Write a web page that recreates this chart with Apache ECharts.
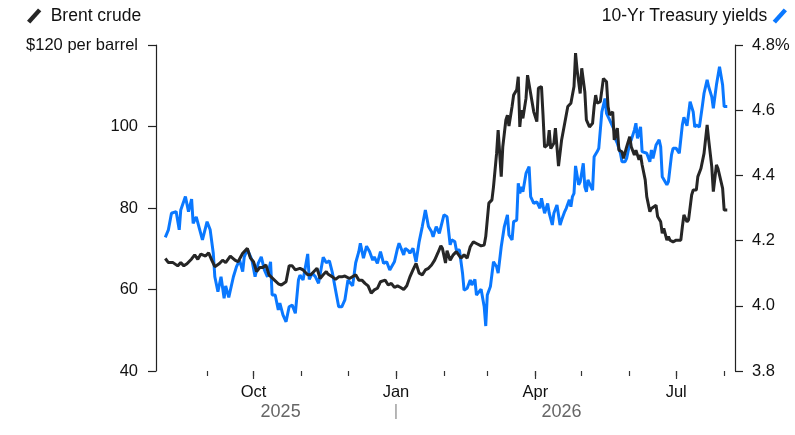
<!DOCTYPE html>
<html lang="en">

<head>
    <meta charset="UTF-8">
    <title>Brent crude vs 10-Yr Treasury yields</title>
    <style>
        html,
        body {
            margin: 0;
            padding: 0;
            background: #fff;
        }

        .mychart {
            width: 795px;
            height: 435px;
        }
    </style>
</head>

<body>
    <div class="mychart"></div>
</body>
<script src="https://cdn.jsdelivr.net/npm/echarts@6/dist/echarts.min.js"></script>
<script>
    // Brent crude, $ per barrel
    const brent = [
        ['2025-08-05', 67.6], ['2025-08-07', 66.6], ['2025-08-10', 66.6], ['2025-08-13', 65.8], ['2025-08-15', 66.6],
        ['2025-08-17', 65.8], ['2025-08-19', 66.3], ['2025-08-22', 67.5], ['2025-08-24', 68.5], ['2025-08-26', 67.4],
        ['2025-08-28', 68.7], ['2025-08-31', 68.2], ['2025-09-02', 69.0], ['2025-09-04', 67.2], ['2025-09-06', 65.6],
        ['2025-09-09', 66.4], ['2025-09-11', 67.2], ['2025-09-13', 66.6], ['2025-09-16', 68.2], ['2025-09-19', 67.2],
        ['2025-09-21', 66.8], ['2025-09-24', 68.9], ['2025-09-27', 70.1], ['2025-09-29', 67.7], ['2025-10-01', 66.8],
        ['2025-10-03', 64.4], ['2025-10-05', 65.4], ['2025-10-07', 65.4], ['2025-10-09', 66.0], ['2025-10-11', 63.6],
        ['2025-10-14', 62.5], ['2025-10-17', 61.4], ['2025-10-19', 61.1], ['2025-10-22', 61.9], ['2025-10-24', 65.8],
        ['2025-10-26', 65.8], ['2025-10-28', 64.8], ['2025-10-31', 65.2], ['2025-11-02', 64.8], ['2025-11-05', 63.6],
        ['2025-11-07', 63.6], ['2025-11-09', 64.4], ['2025-11-11', 65.2], ['2025-11-13', 62.7], ['2025-11-15', 63.6],
        ['2025-11-17', 64.4], ['2025-11-18', 63.8], ['2025-11-21', 63.1], ['2025-11-23', 62.5], ['2025-11-25', 63.1],
        ['2025-11-27', 63.1], ['2025-11-29', 63.3], ['2025-12-02', 62.7], ['2025-12-06', 63.6], ['2025-12-08', 62.3],
        ['2025-12-10', 62.3], ['2025-12-12', 61.5], ['2025-12-14', 60.9], ['2025-12-16', 59.1], ['2025-12-18', 59.9],
        ['2025-12-20', 60.3], ['2025-12-22', 61.9], ['2025-12-25', 62.3], ['2025-12-27', 61.1], ['2025-12-29', 61.5],
        ['2025-12-31', 60.5], ['2026-01-02', 60.9], ['2026-01-04', 60.5], ['2026-01-06', 60.0], ['2026-01-08', 60.9],
        ['2026-01-10', 63.1], ['2026-01-12', 64.8], ['2026-01-14', 66.4], ['2026-01-16', 64.0], ['2026-01-18', 63.6],
        ['2026-01-20', 64.8], ['2026-01-22', 65.2], ['2026-01-24', 66.0], ['2026-01-26', 67.2], ['2026-01-28', 68.9],
        ['2026-01-30', 70.7], ['2026-01-31', 70.1], ['2026-02-02', 66.5], ['2026-02-03', 69.5], ['2026-02-05', 67.2],
        ['2026-02-07', 68.5], ['2026-02-09', 69.3], ['2026-02-12', 67.7], ['2026-02-14', 68.5], ['2026-02-16', 67.7],
        ['2026-02-18', 70.5], ['2026-02-20', 71.7], ['2026-02-22', 71.3], ['2026-02-25', 70.7], ['2026-02-27', 70.9],
        ['2026-02-28', 73.0], ['2026-03-02', 81.2], ['2026-03-04', 82.0], ['2026-03-05', 85.2], ['2026-03-07', 93.4],
        ['2026-03-08', 99.1], ['2026-03-10', 87.7], ['2026-03-11', 95.0], ['2026-03-13', 101.6], ['2026-03-14', 102.8],
        ['2026-03-15', 100.1], ['2026-03-17', 104.9], ['2026-03-18', 107.7], ['2026-03-20', 109.0], ['2026-03-21', 112.2],
        ['2026-03-22', 99.9], ['2026-03-23', 104.0], ['2026-03-24', 102.0], ['2026-03-26', 106.9], ['2026-03-27', 112.6],
        ['2026-03-29', 108.1], ['2026-03-31', 103.6], ['2026-04-02', 101.2], ['2026-04-03', 109.4], ['2026-04-05', 109.8],
        ['2026-04-06', 102.8], ['2026-04-07', 94.9], ['2026-04-09', 95.5], ['2026-04-10', 99.1], ['2026-04-11', 94.6],
        ['2026-04-13', 95.9], ['2026-04-14', 99.6], ['2026-04-16', 90.3], ['2026-04-18', 96.7], ['2026-04-20', 100.8],
        ['2026-04-22', 104.9], ['2026-04-24', 105.7], ['2026-04-26', 109.8], ['2026-04-27', 118.0], ['2026-04-28', 113.9],
        ['2026-04-30', 108.1], ['2026-05-01', 114.3], ['2026-05-03', 108.5], ['2026-05-04', 101.6], ['2026-05-06', 99.9],
        ['2026-05-08', 100.8], ['2026-05-09', 104.9], ['2026-05-10', 107.7], ['2026-05-11', 105.7], ['2026-05-13', 106.1],
        ['2026-05-15', 111.8], ['2026-05-17', 111.0], ['2026-05-18', 104.9], ['2026-05-19', 102.8], ['2026-05-21', 103.6],
        ['2026-05-22', 96.7], ['2026-05-24', 99.6], ['2026-05-25', 94.2], ['2026-05-27', 93.8], ['2026-05-28', 92.2],
        ['2026-05-30', 95.0], ['2026-06-01', 97.5], ['2026-06-02', 95.0], ['2026-06-04', 93.0], ['2026-06-05', 94.2],
        ['2026-06-07', 91.8], ['2026-06-08', 93.0], ['2026-06-09', 90.6], ['2026-06-11', 86.9], ['2026-06-12', 82.8],
        ['2026-06-14', 79.1], ['2026-06-15', 79.9], ['2026-06-18', 80.7], ['2026-06-19', 77.9], ['2026-06-21', 76.6],
        ['2026-06-22', 73.8], ['2026-06-23', 75.0], ['2026-06-25', 72.1], ['2026-06-26', 73.0], ['2026-06-27', 72.1],
        ['2026-06-29', 71.7], ['2026-07-01', 72.1], ['2026-07-04', 72.1], ['2026-07-05', 75.4], ['2026-07-06', 78.3],
        ['2026-07-08', 76.6], ['2026-07-09', 77.1], ['2026-07-11', 83.2], ['2026-07-12', 84.4], ['2026-07-14', 84.4],
        ['2026-07-15', 87.7], ['2026-07-17', 89.7], ['2026-07-19', 93.4], ['2026-07-21', 100.4], ['2026-07-22', 96.7],
        ['2026-07-24', 90.1], ['2026-07-25', 84.0], ['2026-07-27', 90.6], ['2026-07-28', 89.7], ['2026-07-29', 90.1],
        ['2026-07-31', 84.8], ['2026-08-01', 79.5], ['2026-08-03', 79.5]
    ]

    // 10-Yr Treasury yields, %
    const yields = [
        ['2025-08-05', 4.21], ['2025-08-07', 4.233], ['2025-08-09', 4.284], ['2025-08-12', 4.289], ['2025-08-14', 4.233],
        ['2025-08-15', 4.294], ['2025-08-18', 4.335], ['2025-08-20', 4.289], ['2025-08-22', 4.327], ['2025-08-23', 4.253],
        ['2025-08-25', 4.273], ['2025-08-29', 4.202], ['2025-09-01', 4.258], ['2025-09-03', 4.233], ['2025-09-05', 4.161],
        ['2025-09-06', 4.089], ['2025-09-08', 4.043], ['2025-09-10', 4.089], ['2025-09-12', 4.023], ['2025-09-13', 4.061],
        ['2025-09-15', 4.026], ['2025-09-18', 4.089], ['2025-09-20', 4.12], ['2025-09-22', 4.14], ['2025-09-24', 4.105],
        ['2025-09-25', 4.15], ['2025-09-27', 4.173], ['2025-09-30', 4.14], ['2025-10-02', 4.089], ['2025-10-04', 4.13],
        ['2025-10-06', 4.15], ['2025-10-08', 4.11], ['2025-10-10', 4.089], ['2025-10-12', 4.135], ['2025-10-13', 4.033],
        ['2025-10-15', 4.033], ['2025-10-17', 3.987], ['2025-10-18', 4.008], ['2025-10-20', 3.972], ['2025-10-22', 3.951],
        ['2025-10-24', 3.997], ['2025-10-26', 4.002], ['2025-10-28', 3.977], ['2025-10-30', 4.079], ['2025-10-31', 4.094],
        ['2025-11-02', 4.079], ['2025-11-05', 4.159], ['2025-11-06', 4.081], ['2025-11-08', 4.1], ['2025-11-10', 4.089],
        ['2025-11-12', 4.069], ['2025-11-15', 4.149], ['2025-11-17', 4.132], ['2025-11-19', 4.138], ['2025-11-21', 4.1],
        ['2025-11-23', 4.048], ['2025-11-25', 3.997], ['2025-11-27', 3.997], ['2025-11-29', 4.018], ['2025-12-01', 4.079],
        ['2025-12-04', 4.061], ['2025-12-06', 4.132], ['2025-12-08', 4.166], ['2025-12-09', 4.192], ['2025-12-11', 4.146],
        ['2025-12-13', 4.183], ['2025-12-15', 4.166], ['2025-12-17', 4.14], ['2025-12-18', 4.15], ['2025-12-20', 4.13],
        ['2025-12-22', 4.166], ['2025-12-24', 4.13], ['2025-12-26', 4.135], ['2025-12-28', 4.11], ['2025-12-31', 4.135],
        ['2026-01-02', 4.176], ['2026-01-03', 4.192], ['2026-01-06', 4.156], ['2026-01-07', 4.176], ['2026-01-09', 4.169],
        ['2026-01-10', 4.161], ['2026-01-12', 4.176], ['2026-01-14', 4.135], ['2026-01-16', 4.197], ['2026-01-18', 4.243],
        ['2026-01-20', 4.294], ['2026-01-22', 4.243], ['2026-01-24', 4.227], ['2026-01-25', 4.212], ['2026-01-27', 4.243],
        ['2026-01-29', 4.222], ['2026-01-30', 4.227], ['2026-02-01', 4.279], ['2026-02-03', 4.273], ['2026-02-05', 4.187],
        ['2026-02-06', 4.202], ['2026-02-08', 4.197], ['2026-02-09', 4.171], ['2026-02-11', 4.171], ['2026-02-13', 4.1],
        ['2026-02-14', 4.048], ['2026-02-16', 4.054], ['2026-02-18', 4.079], ['2026-02-19', 4.064], ['2026-02-21', 4.081],
        ['2026-02-22', 4.033], ['2026-02-23', 4.03], ['2026-02-25', 4.051], ['2026-02-27', 3.997], ['2026-02-28', 3.938],
        ['2026-03-01', 4.033], ['2026-03-03', 4.059], ['2026-03-05', 4.135], ['2026-03-07', 4.12], ['2026-03-08', 4.1],
        ['2026-03-10', 4.181], ['2026-03-12', 4.243], ['2026-03-14', 4.279], ['2026-03-15', 4.217], ['2026-03-17', 4.202],
        ['2026-03-18', 4.258], ['2026-03-20', 4.263], ['2026-03-21', 4.376], ['2026-03-22', 4.345], ['2026-03-23', 4.365],
        ['2026-03-24', 4.35], ['2026-03-26', 4.406], ['2026-03-28', 4.427], ['2026-03-29', 4.335], ['2026-03-31', 4.314],
        ['2026-04-02', 4.319], ['2026-04-04', 4.299], ['2026-04-05', 4.33], ['2026-04-07', 4.284], ['2026-04-09', 4.314],
        ['2026-04-10', 4.284], ['2026-04-12', 4.248], ['2026-04-13', 4.284], ['2026-04-15', 4.309], ['2026-04-17', 4.248],
        ['2026-04-18', 4.263], ['2026-04-20', 4.289], ['2026-04-21', 4.299], ['2026-04-23', 4.325], ['2026-04-24', 4.304],
        ['2026-04-25', 4.335], ['2026-04-26', 4.345], ['2026-04-27', 4.429], ['2026-04-29', 4.371], ['2026-04-30', 4.38],
        ['2026-05-02', 4.437], ['2026-05-03', 4.365], ['2026-05-04', 4.35], ['2026-05-05', 4.386], ['2026-05-07', 4.365],
        ['2026-05-08', 4.355], ['2026-05-09', 4.457], ['2026-05-11', 4.473], ['2026-05-12', 4.483], ['2026-05-14', 4.595],
        ['2026-05-15', 4.6], ['2026-05-16', 4.636], ['2026-05-17', 4.59], ['2026-05-19', 4.57], ['2026-05-20', 4.575],
        ['2026-05-22', 4.539], ['2026-05-23', 4.509], ['2026-05-24', 4.498], ['2026-05-26', 4.468], ['2026-05-27', 4.442],
        ['2026-05-29', 4.442], ['2026-05-30', 4.452], ['2026-06-01', 4.498], ['2026-06-02', 4.509], ['2026-06-04', 4.539],
        ['2026-06-05', 4.56], ['2026-06-06', 4.514], ['2026-06-08', 4.549], ['2026-06-09', 4.473], ['2026-06-10', 4.478],
        ['2026-06-12', 4.468], ['2026-06-14', 4.442], ['2026-06-15', 4.478], ['2026-06-16', 4.452], ['2026-06-18', 4.493],
        ['2026-06-20', 4.509], ['2026-06-21', 4.488], ['2026-06-22', 4.396], ['2026-06-23', 4.391], ['2026-06-25', 4.371],
        ['2026-06-26', 4.381], ['2026-06-28', 4.463], ['2026-06-29', 4.483], ['2026-07-01', 4.483], ['2026-07-03', 4.468],
        ['2026-07-05', 4.555], ['2026-07-06', 4.578], ['2026-07-08', 4.552], ['2026-07-10', 4.626], ['2026-07-12', 4.595],
        ['2026-07-13', 4.548], ['2026-07-14', 4.555], ['2026-07-16', 4.548], ['2026-07-18', 4.616], ['2026-07-19', 4.652],
        ['2026-07-21', 4.693], ['2026-07-22', 4.672], ['2026-07-24', 4.641], ['2026-07-25', 4.606], ['2026-07-27', 4.677],
        ['2026-07-28', 4.677], ['2026-07-29', 4.733], ['2026-07-31', 4.677], ['2026-08-01', 4.611], ['2026-08-03', 4.611]
    ]

    // axis ticks
    const monthTicks = ['2025-09-01', '2025-10-01', '2025-11-01', '2025-12-01', '2026-01-01', '2026-02-01',
        '2026-03-01', '2026-04-01', '2026-05-01', '2026-06-01', '2026-07-01', '2026-08-01']
    const quarterTicks = ['2025-10-01', '2026-01-01', '2026-04-01', '2026-07-01']
    const monthNames = ['Jan', 'Feb', 'Mar', 'Apr', 'May', 'Jun', 'Jul', 'Aug', 'Sep', 'Oct', 'Nov', 'Dec']
    const brentTicks = [40, 60, 80, 100, 120]
    const yieldTicks = [3.8, 4.0, 4.2, 4.4, 4.6, 4.8]

    const BLACK = '#262626'
    const BLUE = '#0a78ff'
    const FONT = '"Liberation Sans", Arial, sans-serif'
    const slash = 'path://M0,11 L10,0 L13,2.6 L3,13.6 Z'

    // parse 'yyyy-MM-dd' as local midnight
    function toTime(s) {
        const p = s.split('-').map(Number)
        return new Date(p[0], p[1] - 1, p[2]).getTime()
    }

    const xMin = toTime('2025-07-30')
    const xMax = toTime('2026-08-08')
    const jan1 = toTime('2026-01-01')
    const firstDay = toTime(brent[0][0])
    const lastDay = toTime(brent[brent.length - 1][0])
    const yearMarks = [(firstDay + jan1) / 2, jan1, (jan1 + lastDay) / 2]

    const mychartDom = document.querySelector('.mychart')
    const myChart = echarts.init(mychartDom)

    // x is a value axis in ms so ticks can sit on month starts
    const baseX = {
        type: 'value',
        position: 'bottom',
        min: xMin,
        max: xMax,
        axisLine: { show: false, onZero: false },
        splitLine: { show: false }
    }

    const axisColor = '#222'

    const config = {
        animation: false,
        textStyle: { fontFamily: FONT },
        legend: [{
            left: 22,
            top: 2,
            itemWidth: 15,
            itemHeight: 15,
            selectedMode: false,
            data: [{ name: 'Brent crude', icon: slash }],
            itemStyle: { borderWidth: 0 },
            lineStyle: { width: 0 },
            textStyle: { fontSize: 17.5, color: '#111', padding: [0, 0, 0, 4] }
        }, {
            right: 3,
            top: 2,
            align: 'right',
            itemWidth: 15,
            itemHeight: 15,
            selectedMode: false,
            data: [{ name: '10-Yr Treasury yields', icon: slash }],
            itemStyle: { borderWidth: 0 },
            lineStyle: { width: 0 },
            textStyle: { fontSize: 17.5, color: '#111', padding: [0, 0, 0, 0] }
        }],
        grid: {
            left: 156,
            right: 60,
            top: 45,
            bottom: 64,
            containLabel: false
        },
        xAxis: [
            // every month: short tick
            Object.assign({}, baseX, {
                axisTick: {
                    show: true,
                    length: 5,
                    customValues: monthTicks.map(toTime),
                    lineStyle: { color: '#333', width: 1.2 }
                },
                axisLabel: { show: false }
            }),
            // quarters: longer tick + month label
            Object.assign({}, baseX, {
                axisTick: {
                    show: true,
                    length: 8,
                    customValues: quarterTicks.map(toTime),
                    lineStyle: { color: '#333', width: 1.2 }
                },
                axisLabel: {
                    customValues: quarterTicks.map(toTime),
                    margin: 13,
                    fontSize: 16.5,
                    color: '#111',
                    formatter: v => monthNames[new Date(v).getMonth()]
                }
            }),
            // years
            Object.assign({}, baseX, {
                axisTick: { show: false },
                axisLabel: {
                    customValues: yearMarks,
                    margin: 32,
                    formatter: v => v === jan1 ? '{sep||}' : '{yr|' + new Date(v).getFullYear() + '}',
                    rich: {
                        yr: { fontSize: 18, color: '#666', fontFamily: FONT },
                        sep: { fontSize: 17, color: '#999', fontFamily: FONT }
                    }
                }
            })
        ],
        yAxis: [{
            type: 'value',
            position: 'left',
            min: brentTicks[0],
            max: brentTicks[brentTicks.length - 1],
            interval: 20,
            axisLine: { show: true, lineStyle: { color: axisColor, width: 1.2 } },
            axisTick: { show: true, length: 8, lineStyle: { color: axisColor, width: 1.2 } },
            splitLine: { show: false },
            axisLabel: {
                margin: 18,
                fontSize: 16.5,
                color: '#111',
                formatter: v => v === 120 ? '$120 per barrel' : String(v)
            }
        }, {
            type: 'value',
            position: 'right',
            min: yieldTicks[0],
            max: yieldTicks[yieldTicks.length - 1],
            interval: 0.2,
            axisLine: { show: true, lineStyle: { color: axisColor, width: 1.2 } },
            axisTick: { show: true, length: 8, lineStyle: { color: axisColor, width: 1.2 } },
            splitLine: { show: false },
            axisLabel: {
                margin: 17,
                fontSize: 16.5,
                color: '#111',
                formatter: v => Math.abs(v - 4.8) < 1e-6 ? '4.8%' : v.toFixed(1)
            }
        }],
        series: [{
            name: '10-Yr Treasury yields',
            type: 'line',
            xAxisIndex: 0,
            yAxisIndex: 1,
            showSymbol: false,
            symbol: 'none',
            itemStyle: { color: BLUE },
            lineStyle: { color: BLUE, width: 3 },
            data: yields.map(d => [toTime(d[0]), d[1]])
        }, {
            name: 'Brent crude',
            type: 'line',
            xAxisIndex: 0,
            yAxisIndex: 0,
            showSymbol: false,
            symbol: 'none',
            itemStyle: { color: BLACK },
            lineStyle: { color: BLACK, width: 3 },
            data: brent.map(d => [toTime(d[0]), d[1]])
        }]
    }

    myChart.setOption(config)
</script>

</html>
